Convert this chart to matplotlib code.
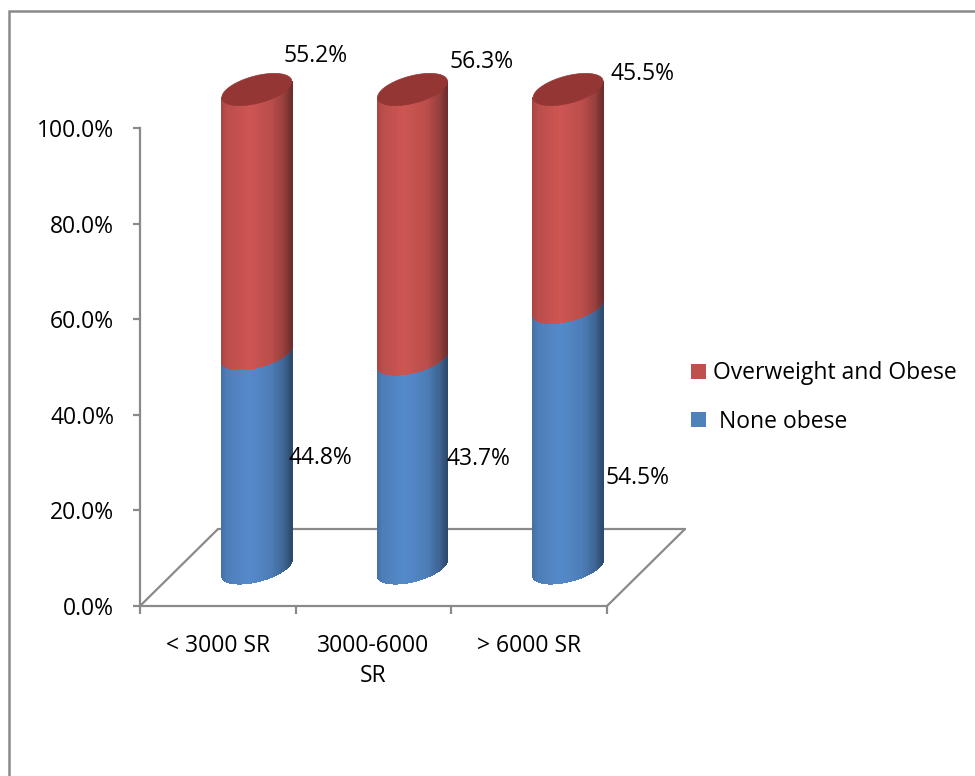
import numpy as np
import matplotlib
matplotlib.use('Agg')
import matplotlib.pyplot as plt
from matplotlib.patches import Polygon, Patch, Rectangle
from matplotlib.collections import PolyCollection
from matplotlib.colors import to_rgb

# data
categories = ['< 3000 SR', '3000-6000\nSR', '> 6000 SR']
none_obese = [44.8, 43.7, 54.5]
overweight = [55.2, 56.3, 45.5]
series_names = ['Overweight and Obese', ' None obese']
yticks = [0, 20, 40, 60, 80, 100]

RED = '#C0504D'
RED_TOP = '#943634'
BLUE = '#4F81BD'
LINE = '#8A8A8A'

plt.rcParams['font.family'] = ['Open Sans', 'DejaVu Sans']
FS = 16.5

W, H = 975, 776
fig = plt.figure(figsize=(W / 100, H / 100), dpi=100)
ax = fig.add_axes([140 / W, 1 - 606 / H, 467 / W, 478 / H])
ax.set_xlim(-0.5, 2.5)
ax.set_ylim(0, 100)

# pixel -> data helpers for the fake depth
px_x = (467 / 3)
px_y = 478 / 100
DX, DY = 78 / px_x, 77 / px_y          # full floor depth
RX = 35 / px_x                          # cylinder half width
EB, EC = 14 / px_y, 8 / px_y            # ellipse half height / tilt


def shade(color, u):
    m = np.interp(u, [0, 0.08, 0.4, 0.72, 0.9, 1.0],
                  [0.86, 0.97, 1.07, 0.97, 0.78, 0.58])
    return np.clip(np.array(to_rgb(color)) * m, 0, 1)


def cylinder_body(xc, y0, y1, color, n=80):
    t = np.linspace(np.pi, 2 * np.pi, n + 1)
    xs = xc + RX * np.cos(t)
    fy = EC * np.cos(t) + EB * np.sin(t)
    polys, cols = [], []
    for i in range(n):
        polys.append([(xs[i], y0 + fy[i]), (xs[i + 1], y0 + fy[i + 1]),
                      (xs[i + 1], y1 + fy[i + 1]), (xs[i], y1 + fy[i])])
        u = (np.cos((t[i] + t[i + 1]) / 2) + 1) / 2
        cols.append(shade(color, u))
    pc = PolyCollection(polys, facecolors=cols, edgecolors=cols,
                        linewidths=0.6, antialiaseds=False,
                        clip_on=False, zorder=3)
    ax.add_collection(pc)
    # smooth outline so the edges are not jagged
    outline = np.vstack([np.column_stack([xs, y0 + fy]),
                         np.column_stack([xs[::-1], (y1 + fy)[::-1]])])
    ax.add_patch(Polygon(outline, closed=True, fill=False,
                         edgecolor=cols[len(cols) // 2], lw=0.0,
                         clip_on=False, zorder=3))


def cylinder_top(xc, y1, color):
    t = np.linspace(0, 2 * np.pi, 160)
    pts = np.column_stack([xc + RX * np.cos(t),
                           y1 + EC * np.cos(t) + EB * np.sin(t)])
    ax.add_patch(Polygon(pts, closed=True, facecolor=color, edgecolor=color,
                         lw=0.5, clip_on=False, zorder=4))


# floor
x0, x1 = -0.5, 2.5
floor_kw = dict(color=LINE, lw=1.6, clip_on=False, zorder=1, solid_capstyle='round')
ax.plot([x0 + DX, x1 + DX], [DY, DY], **floor_kw)
ax.plot([x0, x0 + DX], [0, DY], **floor_kw)
ax.plot([x1, x1 + DX], [0, DY], **floor_kw)

# cylinders
for i in range(len(categories)):
    xc = i + DX / 2
    base = DY / 2
    cylinder_body(xc, base, base + none_obese[i], BLUE)
    cylinder_body(xc, base + none_obese[i], base + none_obese[i] + overweight[i], RED)
    cylinder_top(xc, base + none_obese[i] + overweight[i], RED_TOP)

# data labels (Excel puts these a bit oddly, offsets in pixels)
red_off = [(24, 26), (34, 19), (39, 8)]
blue_off = [(29, 2), (31, 4), (34, -41)]
for i in range(len(categories)):
    xc = i + DX / 2
    base = DY / 2
    ax.annotate(f'{overweight[i]:.1f}%',
                (xc + RX, base + none_obese[i] + overweight[i] + EC),
                xytext=(red_off[i][0] * 0.72, red_off[i][1] * 0.72),
                textcoords='offset points', ha='center', va='center',
                fontsize=FS, annotation_clip=False)
    ax.annotate(f'{none_obese[i]:.1f}%',
                (xc + RX, base + none_obese[i] / 2),
                xytext=(blue_off[i][0] * 0.72, blue_off[i][1] * 0.72),
                textcoords='offset points', ha='center', va='center',
                fontsize=FS, annotation_clip=False, zorder=5)

# axes styling
for s in ['top', 'right']:
    ax.spines[s].set_visible(False)
for s in ['left', 'bottom']:
    ax.spines[s].set_color(LINE)
    ax.spines[s].set_linewidth(1.6)
ax.patch.set_visible(False)

ax.set_yticks(yticks)
ax.set_yticklabels([f'{v:.1f}%' for v in yticks])
ax.tick_params(axis='y', direction='out', length=5, width=1.6, color=LINE,
               pad=13.5, labelsize=FS)

ax.set_xticks([-0.5, 0.5, 1.5, 2.5])
ax.set_xticklabels([])
ax.set_xticks(range(len(categories)), minor=True)
ax.set_xticklabels(categories, minor=True, linespacing=1.35)
ax.tick_params(axis='x', which='major', direction='out', length=6, width=1.6,
               color=LINE)
ax.tick_params(axis='x', which='minor', length=0, pad=20, labelsize=FS)

# legend
handles = [Patch(facecolor=RED, edgecolor='none'),
           Patch(facecolor=BLUE, edgecolor='none')]
fig.legend(handles, series_names, loc='center left',
           bbox_to_anchor=(691 / W, 1 - 397.5 / H), frameon=False,
           fontsize=FS, handlelength=0.65, handleheight=0.65,
           handletextpad=0.3, labelspacing=1.07, borderpad=0, borderaxespad=0)

# chart border
fig.patches.append(Rectangle((9 / W, -0.05), 1.1, 1 - 11 / H + 0.05,
                             transform=fig.transFigure, fill=False,
                             edgecolor=LINE, lw=1.8))

fig.savefig('out.png', dpi=100)
